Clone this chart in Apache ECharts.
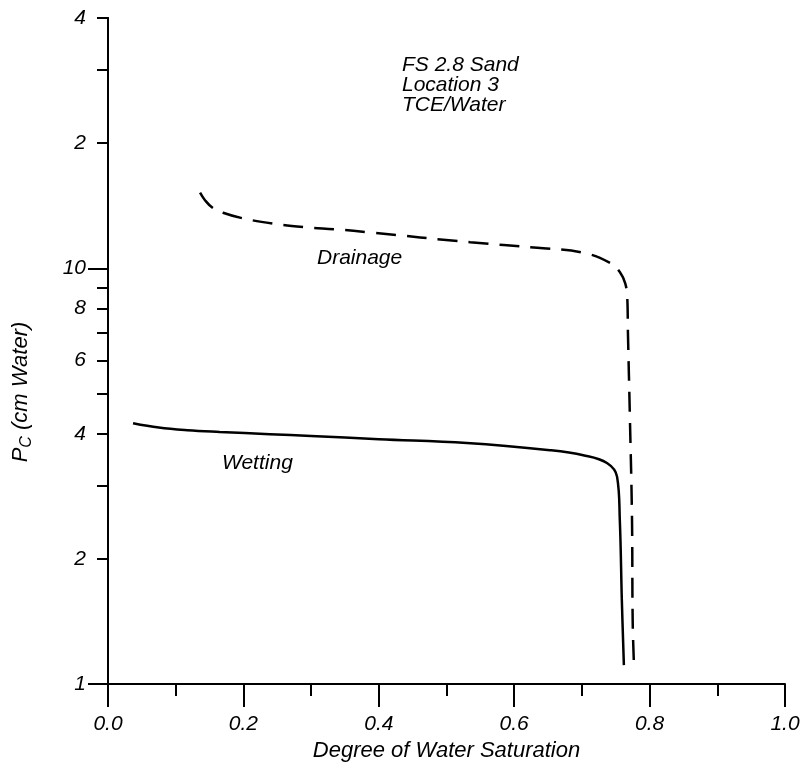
<!DOCTYPE html>
<html>
<head>
<meta charset="utf-8">
<script src="https://cdn.jsdelivr.net/npm/echarts@6/dist/echarts.min.js"></script>
<style>
  html, body { margin: 0; padding: 0; background: #fff; }
  #chart { width: 810px; height: 767px; }
</style>
</head>
<body>
<div id="chart"></div>
<script>
  // Wetting curve (solid)
  var wettingS  = [0.037, 0.075, 0.117, 0.165, 0.239, 0.300, 0.400, 0.530, 0.653, 0.702, 0.737, 0.752, 0.756, 0.759, 0.762];
  var wettingPc = [4.24, 4.14, 4.08, 4.04, 3.99, 3.95, 3.88, 3.80, 3.65, 3.55, 3.40, 3.15, 2.48, 1.59, 1.11];

  // Drainage curve (dashed)
  var drainageS  = [0.136, 0.143, 0.154, 0.170, 0.198, 0.244, 0.291, 0.338, 0.387, 0.535, 0.634, 0.702, 0.742, 0.756, 0.764, 0.767, 0.768, 0.771, 0.774, 0.775, 0.777];
  var drainagePc = [15.2, 14.6, 14.0, 13.6, 13.2, 12.8, 12.55, 12.4, 12.2, 11.55, 11.2, 10.9, 10.3, 9.8, 9.2, 8.5, 7.0, 4.3, 2.5, 1.42, 1.10];

  // Axis ticks / labels
  var yTickValues  = [1, 2, 3, 4, 5, 6, 7, 8, 9, 10, 20, 30, 40];
  var yLabelValues = [1, 2, 4, 6, 8, 10, 20, 40];
  var yLabelText   = ['1', '2', '4', '6', '8', '10', '2', '4'];
  var yLongTicks   = [1, 10];

  var FONT = 'Liberation Sans';

  function pairs(xs, ys) {
    return xs.map(function(x, i) { return [x, ys[i]]; });
  }

  var chart = echarts.init(document.getElementById('chart'), null, { renderer: 'canvas' });

  var baseY = {
    type: 'log',
    logBase: 10,
    min: 1,
    max: 40,
    position: 'left',
    splitLine: { show: false },
    axisLine: { show: true, lineStyle: { color: '#000', width: 2 } }
  };

  chart.setOption({
    animation: false,
    backgroundColor: '#fff',
    textStyle: { fontFamily: FONT },
    grid: { left: 108, right: 25, top: 18, bottom: 83, containLabel: false },
    xAxis: {
      type: 'value',
      min: 0,
      max: 1,
      interval: 0.2,
      name: 'Degree of Water Saturation',
      nameLocation: 'middle',
      nameGap: 51,
      nameTextStyle: { fontFamily: FONT, fontSize: 22, fontStyle: 'italic', color: '#000' },
      axisLine: { onZero: false, lineStyle: { color: '#000', width: 2 } },
      axisTick: { length: 23, lineStyle: { color: '#000', width: 2 } },
      minorTick: { show: true, splitNumber: 2, length: 12, lineStyle: { color: '#000', width: 2 } },
      axisLabel: {
        margin: 30,
        fontFamily: FONT, fontSize: 21, fontStyle: 'italic', color: '#000',
        formatter: function(v) { return v.toFixed(1); }
      },
      splitLine: { show: false }
    },
    yAxis: [
      echarts.util.merge({
        axisTick: { show: true, length: 11, customValues: yTickValues, lineStyle: { color: '#000', width: 2 } },
        axisLabel: {
          margin: 22,
          customValues: yLabelValues,
          fontFamily: FONT, fontSize: 21, fontStyle: 'italic', color: '#000',
          formatter: function(v) {
            var i = yLabelValues.indexOf(Math.round(v));
            return i >= 0 ? yLabelText[i] : '';
          }
        }
      }, baseY, true),
      echarts.util.merge({
        axisTick: { show: true, length: 20, customValues: yLongTicks, lineStyle: { color: '#000', width: 2 } },
        axisLabel: { show: false }
      }, baseY, true)
    ],
    series: [
      {
        name: 'Wetting',
        type: 'line',
        data: pairs(wettingS, wettingPc),
        showSymbol: false,
        smooth: 0.4,
        lineStyle: { color: '#000', width: 2.5 }
      },
      {
        name: 'Drainage',
        type: 'line',
        data: pairs(drainageS, drainagePc),
        showSymbol: false,
        smooth: 0.4,
        lineStyle: { color: '#000', width: 2.5, type: [20, 11] }
      }
    ],
    graphic: [
      {
        type: 'text', left: 402, top: 55,
        style: {
          text: 'FS 2.8 Sand\nLocation 3\nTCE/Water',
          font: 'italic 21px "' + FONT + '"', fill: '#000', lineHeight: 20
        }
      },
      {
        type: 'text', left: 317, top: 248,
        style: { text: 'Drainage', font: 'italic 21px "' + FONT + '"', fill: '#000' }
      },
      {
        type: 'text', left: 222, top: 453,
        style: { text: 'Wetting', font: 'italic 21px "' + FONT + '"', fill: '#000' }
      },
      {
        type: 'text',
        x: 21, y: 392,
        rotation: Math.PI / 2,
        style: {
          text: '{p|P}{s|C}{p| (cm Water)}',
          align: 'center',
          verticalAlign: 'middle',
          rich: {
            p: { font: 'italic 22px "' + FONT + '"', fill: '#000', lineHeight: 26 },
            s: { font: 'italic 16px "' + FONT + '"', fill: '#000', padding: [11, 0, 0, 0], lineHeight: 26 }
          }
        }
      }
    ]
  });
</script>
</body>
</html>
